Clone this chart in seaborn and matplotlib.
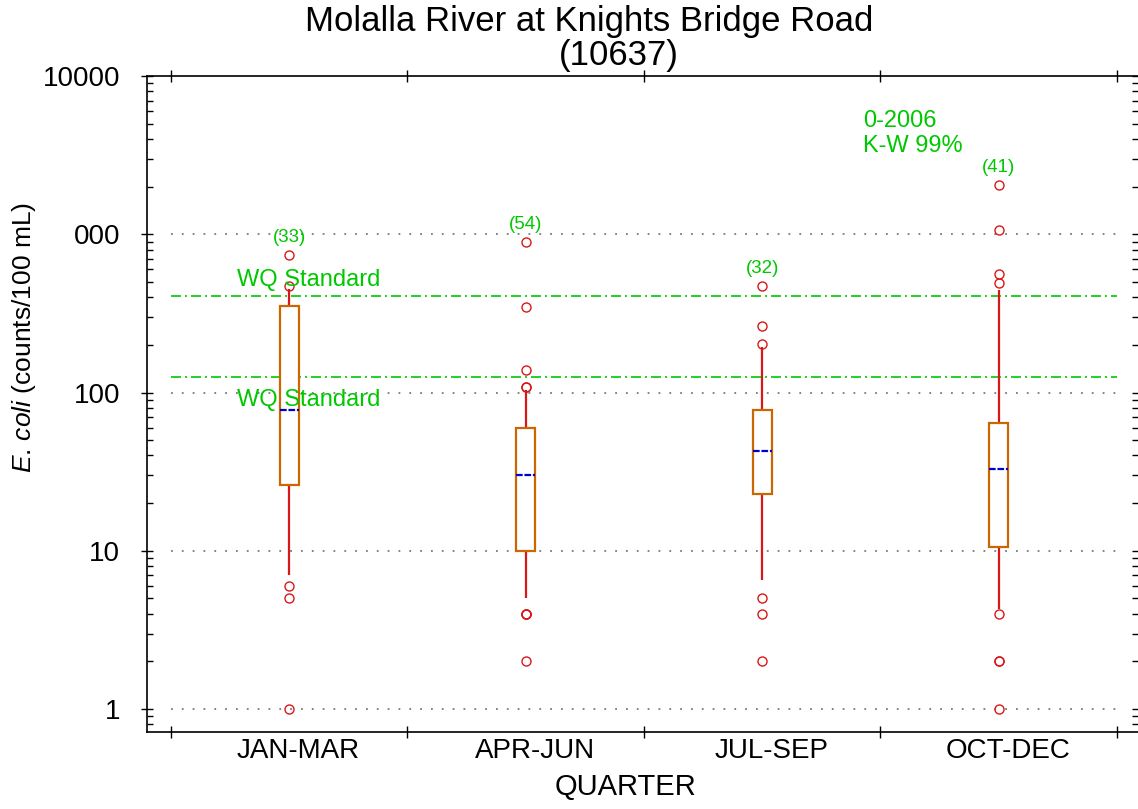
import numpy as np
import pandas as pd
import matplotlib
matplotlib.use("Agg")
import matplotlib.pyplot as plt
import matplotlib.transforms as mtransforms
import seaborn as sns
from matplotlib.ticker import FixedLocator

# ---------------- data ----------------
quarters = ["JAN-MAR", "APR-JUN", "JUL-SEP", "OCT-DEC"]

jan_mar = [1, 5, 6, 7, 7, 9, 12, 18, 26, 30, 35, 41, 48, 55, 62, 70, 78,
           90, 110, 130, 160, 190, 230, 280, 350, 380, 400, 420, 450, 450,
           450, 474, 738]
apr_jun = [2, 4, 4, 4, 5, 5, 5, 6, 7, 8, 8, 9, 10, 10, 10, 12, 13, 15, 17,
           19, 20, 22, 24, 26, 27, 28, 30, 30, 32, 35, 38, 40, 42, 45, 48,
           50, 52, 55, 58, 60, 60, 64, 68, 72, 78, 84, 92, 104, 104, 108,
           108, 139, 346, 891]
jul_sep = [2, 4, 5, 6.5, 6.5, 10, 15, 23, 23, 26, 29, 32, 35, 38, 40, 43,
           43, 46, 50, 55, 60, 66, 72, 77, 77, 100, 140, 193, 193, 203, 265,
           470]
oct_dec = [1, 2, 2, 4, 4.3, 5, 6, 7, 8, 9, 10.5, 12, 14, 16, 18, 20, 23, 25,
           27, 30, 33, 35, 37, 40, 42, 45, 48, 52, 56, 60, 64, 80, 110, 160,
           230, 320, 445, 491, 562, 1066, 2043]

wq_standards = [406, 126]
y_ticks = [1, 10, 100, 1000, 10000]
y_tick_labels = ["1", "10", "100", "000", "10000"]
grid_levels = [1, 10, 100, 1000]
title_line1 = "Molalla River at Knights Bridge Road"
title_line2 = "(10637)"
period_text = "0-2006\nK-W 99%"
wq_label = "WQ Standard"

# ---------------- style ----------------
GREEN = "#00C800"
RED = "#D81818"
ORANGE = "#CC6600"
BLUE = "#0000CC"

sns.set_theme(style="white")
plt.rcParams["font.family"] = ["Liberation Sans", "DejaVu Sans"]
plt.rcParams["mathtext.fontset"] = "custom"
plt.rcParams["mathtext.rm"] = "Liberation Sans"
plt.rcParams["mathtext.it"] = "Liberation Sans:italic"
for key in ["text.color", "axes.labelcolor", "xtick.color", "ytick.color"]:
    plt.rcParams[key] = "black"

series = [jan_mar, apr_jun, jul_sep, oct_dec]
df = pd.DataFrame({
    "quarter": np.repeat(quarters, [len(s) for s in series]),
    "ecoli": np.concatenate([np.asarray(s, dtype=float) for s in series]),
})

W, H = 1138, 809
fig = plt.figure(figsize=(W / 100, H / 100), dpi=100)
ax = fig.add_axes([147 / W, 77 / H, 991 / W, 656 / H])

sns.boxplot(
    data=df, x="quarter", y="ecoli", order=quarters, ax=ax,
    log_scale=True, whis=(10, 90), width=0.082, showcaps=False,
    color="white", linecolor=ORANGE, linewidth=1.5, fill=True,
    boxprops=dict(facecolor="white", edgecolor=ORANGE, linewidth=1.6, zorder=3),
    whiskerprops=dict(color=RED, linewidth=1.6, zorder=2.5),
    medianprops=dict(color=BLUE, linewidth=1.6, linestyle=(0, (3, 0.8)), zorder=4),
    flierprops=dict(marker="o", markerfacecolor="none", markeredgecolor=RED,
                    markersize=6.5, markeredgewidth=1.0, zorder=4),
)

ax.set_yscale("log")
ax.set_ylim(0.716, 10000)
ax.set_xlim(-0.6015, 3.589)

# dotted grid lines between the outer category boundaries
ax.hlines(grid_levels, -0.5, 3.5, colors="#7a7a7a", linestyles=(0, (1, 5)),
          linewidth=1.3, zorder=0.5)
# WQ standard lines
ax.hlines(wq_standards, -0.5, 3.5, colors=GREEN, linestyles=(0, (6, 2.4, 1.2, 2.4)),
          linewidth=1.2, zorder=1.5)
ax.text(-0.221, 515, wq_label, color=GREEN, fontsize=17, ha="left", va="center", zorder=5)
ax.text(-0.221, 89.8, wq_label, color=GREEN, fontsize=17, ha="left", va="center", zorder=5)

# sample counts above the highest value of each quarter
for i, s in enumerate(series):
    ax.annotate(f"({len(s)})", xy=(i, max(s)), xytext=(0, 13),
                textcoords="offset points", ha="center", va="center",
                fontsize=13.5, color=GREEN)

ax.text(2.426, 6110, period_text, color=GREEN, fontsize=17, ha="left", va="top")

# ---------------- axes / ticks ----------------
ax.set_yticks(y_ticks)
ax.set_yticklabels(y_tick_labels)
ax.yaxis.set_ticks_position("both")
ax.tick_params(axis="y", which="major", direction="inout", length=9, width=1.0,
               color="black", labelsize=20, pad=15, left=True, right=True)
ax.tick_params(axis="y", which="minor", direction="in", length=4, width=1.0,
               color="black", left=True, right=True)

ax.set_xticks(range(len(quarters)))
ax.set_xticklabels(quarters)
ax.xaxis.set_minor_locator(FixedLocator([-0.5, 0.5, 1.5, 2.5, 3.5]))
ax.tick_params(axis="x", which="major", length=0, labelsize=20, pad=4,
               bottom=True, top=False)
ax.tick_params(axis="x", which="minor", direction="inout", length=8, width=1.0,
               color="black", bottom=True, top=True)
shift = mtransforms.ScaledTranslation(9 / 100, 0, fig.dpi_scale_trans)
for lab in ax.get_xticklabels():
    lab.set_transform(lab.get_transform() + shift)

for side in ["left", "bottom", "top"]:
    ax.spines[side].set_color("black")
    ax.spines[side].set_linewidth(1.2)
ax.spines["right"].set_visible(False)

ax.set_ylabel(r"$\it{E.\,coli}$ (counts/100 mL)", fontsize=19)
ax.yaxis.set_label_coords(-0.11, 0.602)
ax.set_xlabel("QUARTER", fontsize=21)
ax.xaxis.set_label_coords(0.483, -0.0625)

fig.text(589 / W, 1 - 22 / H, title_line1, fontsize=25, ha="center", va="center")
fig.text(619 / W, 1 - 55 / H, title_line2, fontsize=25, ha="center", va="center")

fig.savefig("out.png", dpi=100)
